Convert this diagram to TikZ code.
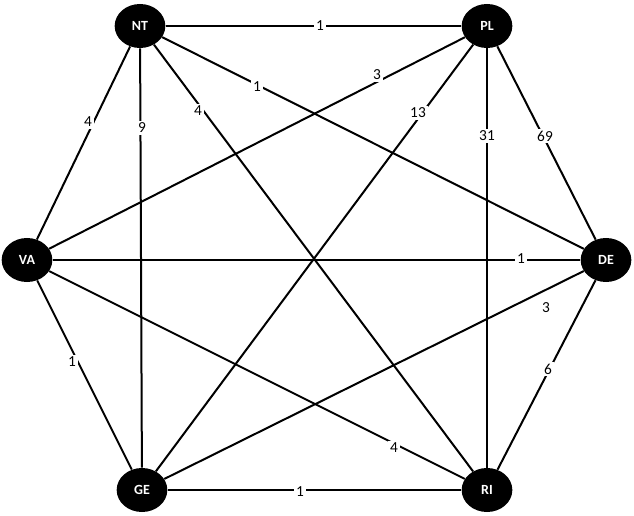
\documentclass[tikz,border=0pt]{standalone}
\usepackage{fontspec}
\setmainfont{Carlito}
\usetikzlibrary{shapes.geometric}
\pgfdeclarelayer{bg}
\pgfsetlayers{bg,main}
\begin{document}
\begin{tikzpicture}[x=0.75pt,y=-0.75pt,
  vert/.style={ellipse,fill=black,text=white,minimum width=38pt,minimum height=33pt,inner sep=0pt,font=\bfseries\fontsize{10.5}{12}\selectfont},
  lbl/.style={fill=white,inner sep=1.5pt,font=\fontsize{11.5}{13}\selectfont},
  edge/.style={line width=1.5pt}]
\useasboundingbox (0,0) rectangle (634,516);
\node[vert] (NT) at (140,26) {NT};
\node[vert] (PL) at (487,26) {PL};
\node[vert] (VA) at (27,260) {VA};
\node[vert] (DE) at (606,260) {DE};
\node[vert] (GE) at (142,490) {GE};
\node[vert] (RI) at (487,490) {RI};
\begin{pgfonlayer}{bg}
\draw[edge] (NT) -- (PL);
\draw[edge] (NT) -- (DE);
\draw[edge] (NT) -- (RI);
\draw[edge] (NT) -- (GE);
\draw[edge] (NT) -- (VA);
\draw[edge] (PL) -- (VA);
\draw[edge] (PL) -- (GE);
\draw[edge] (PL) -- (RI);
\draw[edge] (PL) -- (DE);
\draw[edge] (VA) -- (DE);
\draw[edge] (DE) -- (GE);
\draw[edge] (DE) -- (RI);
\draw[edge] (VA) -- (GE);
\draw[edge] (VA) -- (RI);
\draw[edge] (GE) -- (RI);
\end{pgfonlayer}
\node[lbl] (l1) at (320,26) {1};
\node[lbl] (l2) at (257,87) {1};
\node[lbl] (l3) at (198,111) {4};
\node[lbl] (l4) at (142,128) {9};
\node[lbl] (l5) at (88,122) {4};
\node[lbl] (l6) at (377,75) {3};
\node[lbl] (l7) at (418,113) {13};
\node[lbl] (l8) at (487,136) {31};
\node[lbl] (l9) at (545,136) {69};
\node[lbl] (l10) at (521,259) {1};
\node[lbl] (l11) at (546,308) {3};
\node[lbl] (l12) at (548,369) {6};
\node[lbl] (l13) at (72,362) {1};
\node[lbl] (l14) at (394,448) {4};
\node[lbl] (l15) at (300,492) {1};
\end{tikzpicture}
\end{document}
